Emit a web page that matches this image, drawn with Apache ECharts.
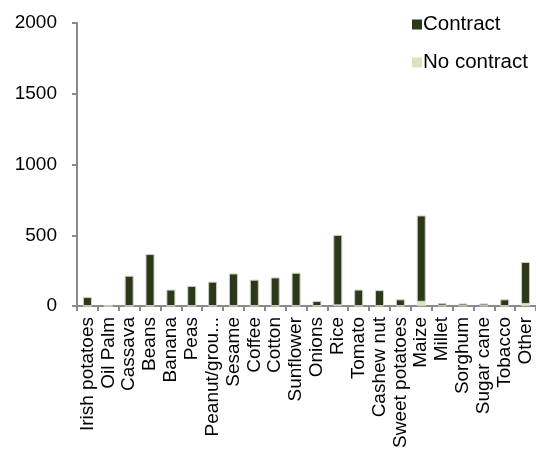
<!DOCTYPE html>
<html>
<head>
<meta charset="utf-8">
<script src="https://cdn.jsdelivr.net/npm/echarts@6/dist/echarts.min.js"></script>
<style>
  html, body { margin: 0; padding: 0; background: #ffffff; }
  #chart { width: 536px; height: 451px; }
</style>
</head>
<body>
<div id="chart"></div>
<script>
// Crop categories along the x axis
const crops = [
  'Irish potatoes', 'Oil Palm', 'Cassava', 'Beans', 'Banana', 'Peas',
  'Peanut/grou...', 'Sesame', 'Coffee', 'Cotton', 'Sunflower', 'Onions',
  'Rice', 'Tomato', 'Cashew nut', 'Sweet potatoes', 'Maize', 'Millet',
  'Sorghum', 'Sugar cane', 'Tobacco', 'Other'
];

// Number of farmers selling without a contract (bottom segment)
const noContract = [
  0, 0, 0, 0, 0, 0,
  0, 0, 0, 0, 0, 0,
  5, 0, 0, 0, 30, 2,
  2, 3, 0, 15
];

// Number of farmers selling under a contract (top segment)
const contract = [
  63, 2, 214, 367, 116, 142,
  172, 230, 186, 202, 235, 35,
  497, 116, 112, 47, 610, 18,
  16, 15, 47, 296
];

// Value axis ticks
const yTicks = [0, 500, 1000, 1500, 2000];

const darkGreen = '#2c3819';
const lightGreen = '#d7e4bd';
const axisGrey = '#8a8a8a';
const font = 'Liberation Sans, Arial, sans-serif';

const chart = echarts.init(document.getElementById('chart'), null, { renderer: 'canvas' });

chart.setOption({
  animation: false,
  backgroundColor: '#ffffff',
  legend: {
    orient: 'vertical',
    left: 407,
    top: 9,
    icon: 'rect',
    itemWidth: 10,
    itemHeight: 10,
    itemGap: 17,
    itemStyle: { borderWidth: 0 },
    textStyle: { fontFamily: font, fontSize: 20.5, color: '#000000', padding: [0, 0, 0, -4] },
    data: ['Contract', 'No contract']
  },
  grid: {
    left: 77,
    right: 0,
    top: 23,
    bottom: 141,
    containLabel: false
  },
  xAxis: {
    type: 'category',
    data: crops,
    axisLine: { lineStyle: { color: axisGrey, width: 2 } },
    axisTick: { show: true, length: 5, lineStyle: { color: axisGrey, width: 2 } },
    axisLabel: {
      interval: 0,
      rotate: 90,
      margin: 11,
      fontFamily: font,
      fontSize: 19,
      color: '#000000'
    }
  },
  yAxis: {
    type: 'value',
    min: yTicks[0],
    max: yTicks[yTicks.length - 1],
    interval: yTicks[1] - yTicks[0],
    axisLine: { show: true, lineStyle: { color: axisGrey, width: 2 } },
    axisTick: { show: true, length: 5, lineStyle: { color: axisGrey, width: 2 } },
    splitLine: { show: false },
    axisLabel: {
      margin: 20,
      fontFamily: font,
      fontSize: 19,
      color: '#000000',
      formatter: (v) => String(v)
    }
  },
  series: [
    {
      name: 'No contract',
      type: 'bar',
      stack: 'total',
      barWidth: 9,
      data: noContract,
      itemStyle: { color: lightGreen, borderColor: '#e6ebd8', borderWidth: 0.5 }
    },
    {
      name: 'Contract',
      type: 'bar',
      stack: 'total',
      barWidth: 9,
      data: contract,
      itemStyle: { color: darkGreen, borderColor: '#c9cdbd', borderWidth: 1 }
    }
  ]
});
</script>
</body>
</html>
